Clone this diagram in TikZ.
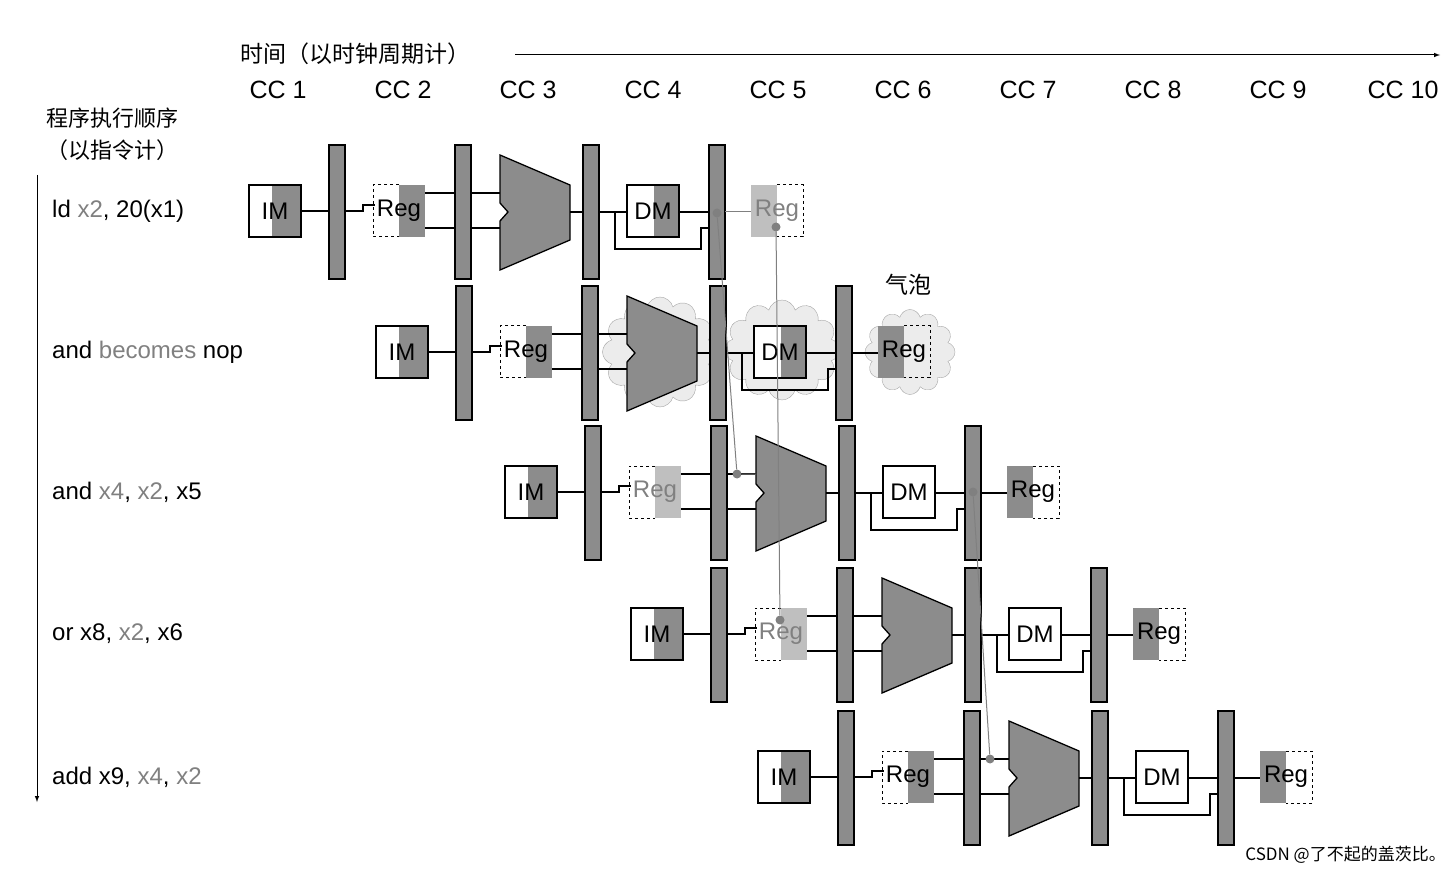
\documentclass[tikz,border=0pt]{standalone}
\usepackage{fontspec}
\setmainfont{Liberation Sans}
\newfontfamily\cjk{Noto Sans CJK SC}
\usetikzlibrary{shapes.symbols}
\definecolor{bargray}{gray}{0.55}
\definecolor{lgray}{gray}{0.75}
\tikzset{
 lab/.style={font=\fontsize{24}{24}\selectfont, inner sep=0},
 bar/.style={draw,line width=1.3pt,fill=bargray,minimum width=16pt,minimum height=134pt,inner sep=0},
 w/.style={line width=1.3pt},
 fw/.style={gray,line width=1pt},
 dotn/.style={circle,fill=gray,inner sep=0,minimum size=9pt},
 bub/.style={cloud,cloud puffs=12,draw=gray!70,fill=gray!15,inner sep=0},
}
% #1 prefix #2 x0 #3 yc #4 read fill #5 read text #6 DM fill #7 write fill #8 write text #9 write line style
\newcommand\pipe[9]{%
\begin{scope}[shift={(#2,#3)}]
\fill[white] (0,-26) rectangle (23,26); \fill[bargray] (23,-26) rectangle (52,26);
\draw[w] (0,-26) rectangle (52,26);
\node[lab] (#1im) at (26,0) {IM};
\node[bar] (#1b1) at (88,1) {};
\node[bar] (#1b2) at (214,1) {};
\node[bar] (#1b3) at (342,1) {};
\node[bar] (#1b4) at (468,1) {};
\draw[w] (#1im.east -| 52,0) -- (#1b1.west |- 0,0);
\fill[#4] (150,-26) rectangle (176,26);
\draw[line width=1pt,dashed] (150,-26) -- (124,-26) -- (124,26) -- (150,26);
\node[lab,text=#5] (#1rg) at (150,0) {Reg};
\draw[w] (96,0)--(114,0)--(114,-6)--(126,-6);
\draw[w] (176,-18)--(206,-18) (176,17)--(206,17) (222,-18)--(251,-18) (222,17)--(251,17);
\filldraw[w,fill=bargray] (251,-56)--(321,-26)--(321,29)--(251,59)--(251,10)--(259,1)--(251,-8)--cycle;
\draw[w] (321,1)--(334,1) (350,1)--(378,1);
\fill[white] (378,-26) rectangle (405,26); \fill[#6] (405,-26) rectangle (430,26);
\draw[w] (378,-26) rectangle (430,26);
\node[lab] (#1dm) at (404,0) {DM};
\draw[w] (430,1)--(460,1) (366,1)--(366,38)--(452,38)--(452,17)--(460,17);
\draw[#9] (476,1)--(502,1);
\fill[#7] (502,-26) rectangle (528,26);
\draw[line width=1pt,dashed] (528,-26)--(554,-26)--(554,26)--(528,26);
\node[lab,text=#8] (#1wr) at (528,0) {Reg};
\end{scope}}
\begin{document}
\begin{tikzpicture}[x=1pt,y=-1pt]
\useasboundingbox (0,0) rectangle (1456,874);
% header
\node[font=\cjk\fontsize{23}{23}\selectfont,anchor=west,inner sep=0] (title) at (240,54) {时间（以时钟周期计）};
\coordinate (arrend) at (1440,55);
\draw[-latex,line width=1pt] (515,55) -- (arrend);
\foreach \i in {1,...,10} {\node[font=\fontsize{25}{25}\selectfont,inner sep=0] (cc\i) at ({278+125*(\i-1)},90) {CC \i};}
\node[font=\cjk\fontsize{22}{22}\selectfont,inner sep=0] (ord1) at (112,118) {程序执行顺序};
\node[font=\cjk\fontsize{22}{22}\selectfont,inner sep=0] (ord2) at (112,150) {（以指令计）};
\coordinate (va) at (37,175); \coordinate (vb) at (37,802);
\draw[-latex,line width=1pt] (va) -- (vb);
\begin{scope}[every node/.style={font=\fontsize{24}{24}\selectfont,anchor=west,inner sep=0}]
\node (i1) at (52,211) {ld \textcolor{gray}{x2}, 20(x1)};
\node (i2) at (52,352) {and \textcolor{gray}{becomes} nop};
\node (i3) at (52,492) {and \textcolor{gray}{x4}, \textcolor{gray}{x2}, x5};
\node (i4) at (52,634) {or x8, \textcolor{gray}{x2}, x6};
\node (i5) at (52,777) {add x9, \textcolor{gray}{x4}, \textcolor{gray}{x2}};
\end{scope}
% bubbles
\node[bub,minimum width=115pt,minimum height=110pt] (c1) at (660,352) {};
\node[bub,minimum width=115pt,minimum height=100pt] (c2) at (782,350) {};
\node[bub,minimum width=90pt,minimum height=85pt] (c3) at (910,352) {};
\node[font=\cjk\fontsize{23}{23}\selectfont,inner sep=0] (qp) at (908,285) {气泡};
% rows
\pipe{a}{249}{211}{bargray}{black}{bargray}{lgray}{gray}{fw}
\pipe{b}{376}{352}{bargray}{black}{bargray}{bargray}{black}{w}
\pipe{c}{505}{492}{lgray}{gray}{white}{bargray}{black}{w}
\pipe{d}{631}{634}{lgray}{gray}{white}{bargray}{black}{w}
\pipe{e}{758}{777}{bargray}{black}{white}{bargray}{black}{w}
% forwarding
\node[dotn] (f1a) at (717,213) {};
\node[dotn] (f1b) at (737,474) {};
\draw[fw] (f1a) -- (f1b) (f1b) -- (756,474);
\node[dotn] (f2a) at (776,227) {};
\node[dotn] (f2b) at (780,620) {};
\draw[fw] (f2a) -- (f2b);
\node[dotn] (f3a) at (973,492) {};
\node[dotn] (f3b) at (990,759) {};
\draw[fw] (f3a) -- (f3b);
\node[font=\cjk\fontsize{17}{17}\selectfont,inner sep=0,anchor=east] (wm) at (1446,855) {CSDN @了不起的盖茨比。};
\end{tikzpicture}
\end{document}
